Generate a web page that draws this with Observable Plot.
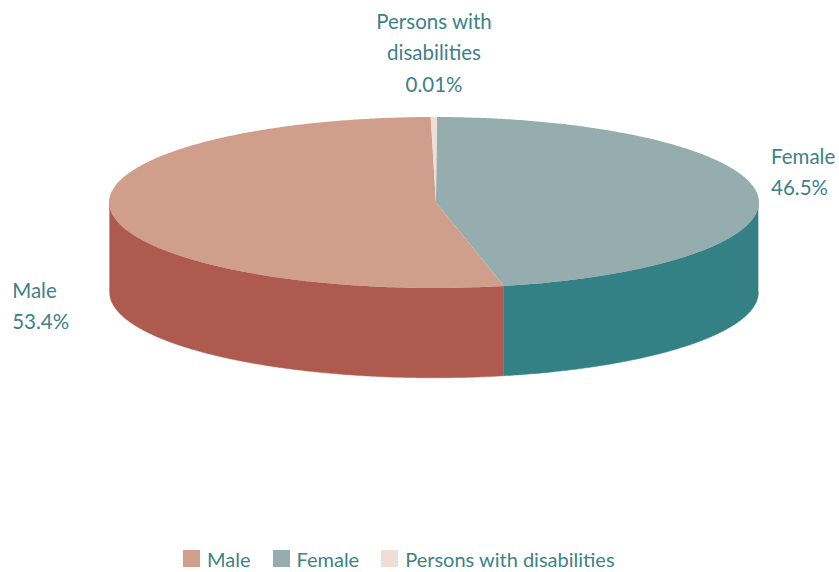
<!DOCTYPE html>
<html>
<head>
<meta charset="utf-8">
<script src="https://cdn.jsdelivr.net/npm/d3@7"></script>
<script src="https://cdn.jsdelivr.net/npm/@observablehq/plot@0.6"></script>
<style>
html,body{margin:0;padding:0;background:#fff;overflow:hidden}
#legend{display:flex;justify-content:flex-start;width:839px;padding-left:183px;box-sizing:border-box;padding-top:2px}
#legend svg{margin-right:7px !important}
#legend [class$="-swatch"]{margin-right:22px !important;white-space:nowrap}
</style>
</head>
<body>
<div id="chart"></div>
<div id="legend"></div>
<script>
const categories = ["Female", "Male", "Persons with disabilities"];
const shareLabels = ["46.5%", "53.4%", "0.01%"];
// Visual share of each wedge (the smallest wedge is drawn wider than its label).
const wedgeShares = [46.5, 53.4, 0.3];
const topColors = ["#95adaf", "#cf9f8c", "#f0ddd5"];
const wallColors = ["#338085", "#ae5a4f", "#f0ddd5"];
const legendOrder = ["Male", "Female", "Persons with disabilities"];
const legendColors = ["#cf9f8c", "#95adaf", "#f0ddd5"];
const labelLines = ["Female\n46.5%", "Male\n53.4%", "Persons with\ndisabilities\n0.01%"];
const labelX = [1.037, -1.298, 0];
const labelY = [-0.385, 1.18, -1.78];
const labelAnchor = ["start", "start", "middle"];

const textColor = "#3d8287";
const font = "Lato, 'Open Sans', sans-serif";
const startAngle = 0.5;
const depth = 1.05;       // wall height, in units of the ellipse's vertical radius
const wallInset = 0.998;
const apexX = 0.006;

const total = d3.sum(wedgeShares);
let acc = startAngle;
const wedges = categories.map((name, i) => {
  const a0 = acc;
  acc += wedgeShares[i] / total * 360;
  return {name, a0, a1: acc, top: topColors[i], wall: wallColors[i]};
});

const rim = (deg, r = 1, dy = 0) => {
  const t = deg * Math.PI / 180;
  return {x: r * Math.sin(t), y: -Math.cos(t) + dy};
};
const sweep = (a0, a1) => {
  const n = Math.max(2, Math.ceil((a1 - a0) * 2));
  return d3.range(n + 1).map(k => a0 + (a1 - a0) * k / n);
};
const wedgePath = w => [{x: apexX, y: 0}, ...sweep(w.a0, w.a1).map(a => rim(a))];
const wallPath = (a0, a1) => {
  const s = sweep(a0, a1);
  return [...s.map(a => rim(a, wallInset)), ...s.reverse().map(a => rim(a, wallInset, depth))];
};

const marks = [];
for (const w of wedges) {
  const a0 = Math.max(w.a0, 90), a1 = Math.min(w.a1, 270);
  if (a1 > a0) marks.push(Plot.line(wallPath(a0, a1), {x: "x", y: "y", fill: w.wall, stroke: w.wall, strokeWidth: 0.5, curve: "linear"}));
}
for (const w of wedges) {
  marks.push(Plot.line(wedgePath(w), {x: "x", y: "y", fill: w.top, stroke: "none", curve: "linear"}));
}
const labels = categories.map((name, i) => ({text: labelLines[i], x: labelX[i], y: labelY[i], anchor: labelAnchor[i]}));
for (const d of labels) {
  marks.push(Plot.text([d], {x: "x", y: "y", text: "text", textAnchor: d.anchor, fill: textColor, fontSize: 20.5, lineHeight: 1.54, fontFamily: font}));
}

const plot = Plot.plot({
  width: 839,
  height: 540,
  style: {background: "transparent", fontFamily: font},
  x: {domain: [-1, 1], range: [108.5, 758.5], axis: null},
  y: {domain: [-1, 1], range: [116.5, 287.5], axis: null},
  marks
});
document.getElementById("chart").append(plot);

const legend = Plot.legend({
  color: {domain: legendOrder, range: legendColors},
  legend: "swatches",
  swatchSize: 17,
  style: {fontSize: "20px", fontFamily: font, color: textColor}
});
document.getElementById("legend").append(legend);
</script>
</body>
</html>
